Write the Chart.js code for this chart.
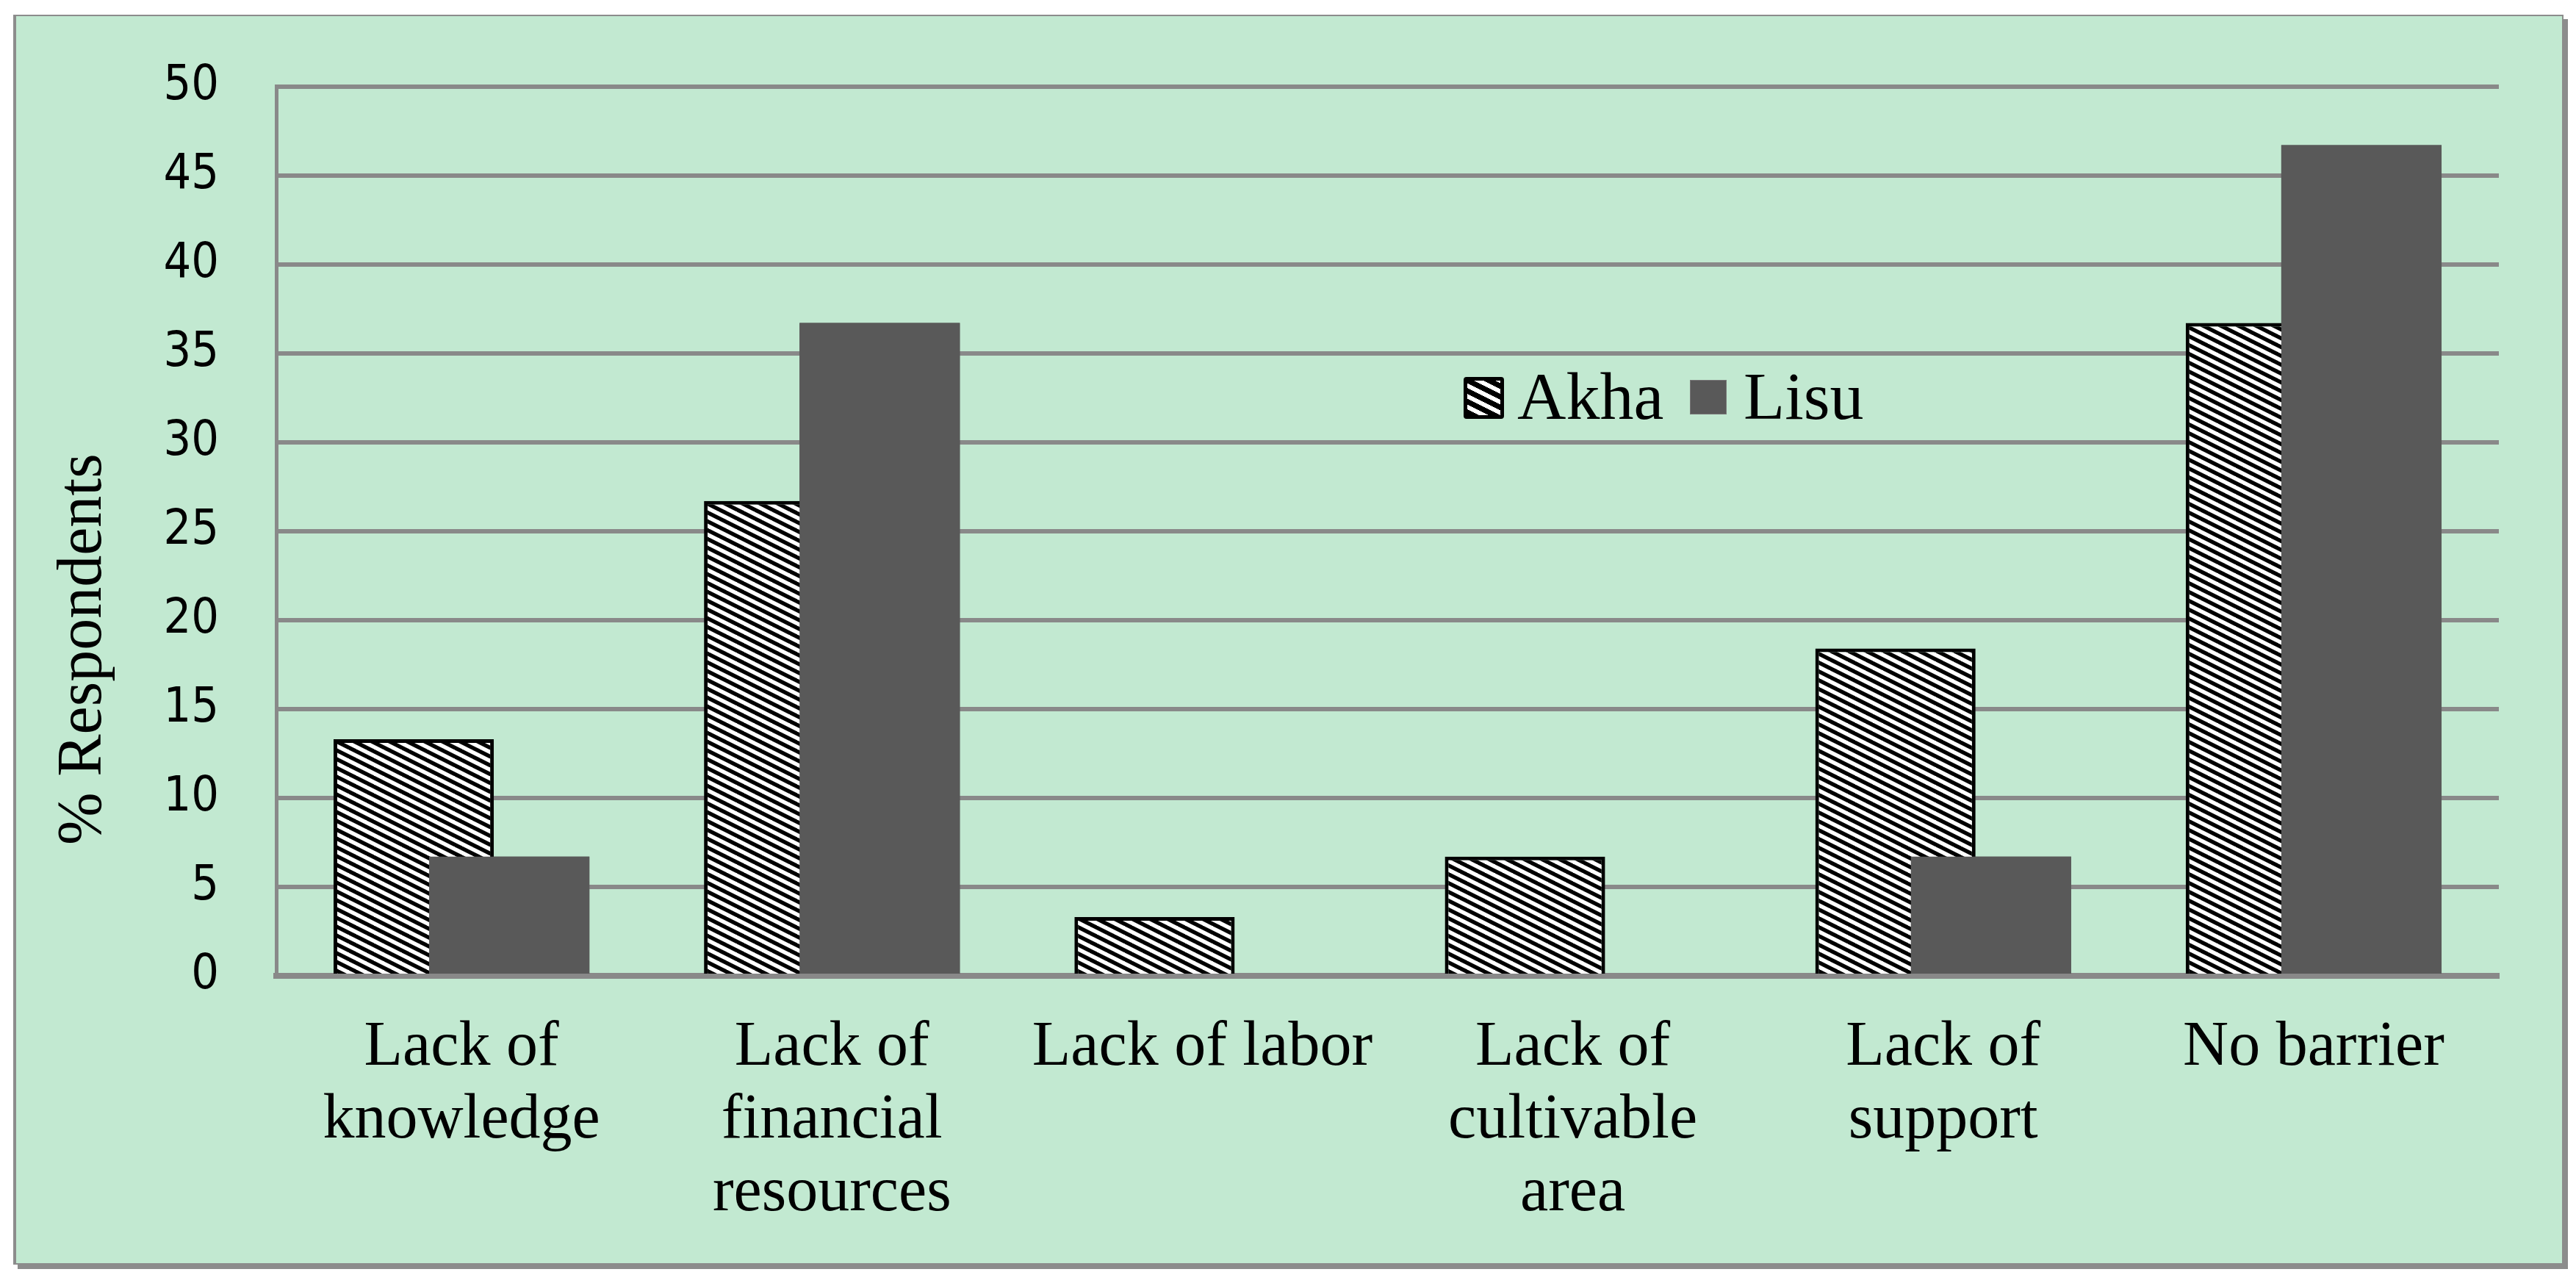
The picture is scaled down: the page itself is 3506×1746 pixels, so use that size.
<!DOCTYPE html>
<html>
<head>
<meta charset="utf-8">
<script src="https://cdn.jsdelivr.net/npm/chart.js@4.4.0/dist/chart.umd.min.js"></script>
<style>
  html, body { margin: 0; padding: 0; background: #fff; }
  body { width: 3506px; height: 1746px; position: relative; overflow: hidden; }
  #frame {
    position: absolute; left: 18px; top: 20px; width: 3465px; height: 1697px;
    background: #c2e9d1; border: 2px solid #8c8c8c; border-left-width: 4px; box-shadow: 6px 6px 0 #8c8c8c;
  }
  #chart { position: absolute; left: 0; top: 0; }
  .serif { font-family: "Liberation Serif", "Times New Roman", serif; color: #000; white-space: nowrap; }
  .legend-text { position: absolute; top: 493px; font-size: 92px; line-height: 92px; }
  .swatch { position: absolute; box-sizing: border-box; }
  #swAkha {
    left: 1992px; top: 513px; width: 55px; height: 57px; border: 5px solid #000; border-radius: 4px;
    background: repeating-linear-gradient(26.6deg, #000 0 7px, #fff 7px 13px);
  }
  #swLisu { left: 2300px; top: 517px; width: 50px; height: 47px; background: #595959; border: 1px solid #777; }
  #ytitle {
    position: absolute; left: 65px; top: 1150px; font-size: 86px; line-height: 86px;
    transform-origin: 0 0; transform: rotate(-90deg);
  }
</style>
</head>
<body>
<div id="frame"></div>
<canvas id="chart" width="3506" height="1746" style="width:3506px;height:1746px"></canvas>
<div id="ytitle" class="serif">% Respondents</div>
<div id="swAkha" class="swatch"></div>
<div class="serif legend-text" style="left:2065px">Akha</div>
<div id="swLisu" class="swatch"></div>
<div class="serif legend-text" style="left:2373px">Lisu</div>

<script>
const categories = [
  ["Lack of", "knowledge"],
  ["Lack of", "financial", "resources"],
  "Lack of labor",
  ["Lack of", "cultivable", "area"],
  ["Lack of", "support"],
  "No barrier",
];
const akhaValues = [13.3, 26.7, 3.3, 6.7, 18.4, 36.7];
const lisuValues = [6.7, 36.7, 0, 0, 6.7, 46.7];
const seriesNames = ["Akha", "Lisu"];

const gridColor = "#898989";
const serifFont = '"Liberation Serif", "Times New Roman", serif';
const sansFont = '"DejaVu Sans Condensed", "DejaVu Sans", sans-serif';

// black/white downward diagonal fill (shallow "\" stripes)
function makeHatch() {
  const c = document.createElement("canvas");
  c.width = 24;
  c.height = 12;
  const g = c.getContext("2d");
  g.fillStyle = "#fff";
  g.fillRect(0, 0, 24, 12);
  g.strokeStyle = "#000";
  g.lineWidth = 5.4;
  for (let k = -24; k <= 48; k += 24) {
    g.beginPath();
    g.moveTo(k - 4, -2);
    g.lineTo(k + 28, 14);
    g.stroke();
  }
  return g.createPattern(c, "repeat");
}

// Lisu bars overlap the Akha bars, so draw them again on top
const lisuOnTop = {
  id: "lisuOnTop",
  afterDatasetsDraw(chart) {
    chart.getDatasetMeta(1).controller.draw();
  },
};

const ctx = document.getElementById("chart");
new Chart(ctx, {
  type: "bar",
  data: {
    labels: categories,
    datasets: [
      {
        label: seriesNames[0],
        data: akhaValues,
        backgroundColor: makeHatch(),
        borderColor: "#000",
        borderWidth: 5,
        categoryPercentage: 0.516,
        barPercentage: 1.677,
      },
      {
        label: seriesNames[1],
        data: lisuValues,
        backgroundColor: "#595959",
        borderWidth: 0,
        categoryPercentage: 0.516,
        barPercentage: 1.677,
      },
    ],
  },
  options: {
    responsive: false,
    animation: false,
    devicePixelRatio: 1,
    layout: { padding: { left: 0, top: 88, right: 105, bottom: 0 } },
    plugins: {
      legend: { display: false },
      tooltip: { enabled: false },
    },
    scales: {
      x: {
        grid: { display: false, drawTicks: false },
        border: { display: true, color: gridColor, width: 8 },
        ticks: {
          color: "#000",
          padding: 49,
          maxRotation: 0,
          autoSkip: false,
          font: { family: serifFont, size: 86, lineHeight: 1.15 },
        },
        afterFit(scale) {
          scale.height = 418;
        },
      },
      y: {
        min: 0,
        max: 50,
        grid: { color: gridColor, lineWidth: 6, drawTicks: false },
        border: { display: true, color: gridColor, width: 5 },
        ticks: {
          stepSize: 5,
          color: "#000",
          padding: 78,
          font: { family: sansFont, size: 66 },
        },
        afterFit(scale) {
          scale.width = 376;
        },
      },
    },
  },
  plugins: [lisuOnTop],
});
</script>
</body>
</html>
